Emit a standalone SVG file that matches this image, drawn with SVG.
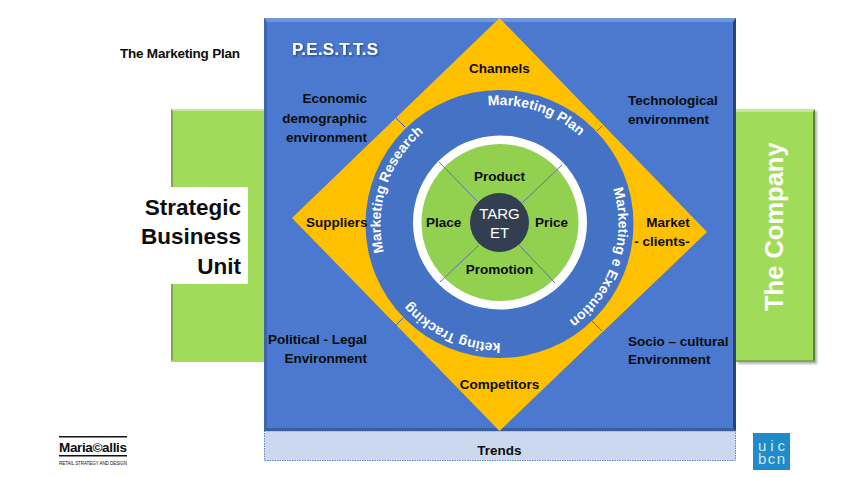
<svg xmlns="http://www.w3.org/2000/svg" width="848" height="477" viewBox="0 0 848 477">
<style>
text{font-family:"Liberation Sans",Arial,sans-serif;font-weight:700;fill:#0d0d0d;font-size:13.5px}
.e{text-anchor:end}.m{text-anchor:middle}
.w{fill:#fff}
.arc{fill:#fff;font-size:14px}
.spoke{stroke:#5b74b5;stroke-width:1;fill:none}
.tick{stroke:#3f63a8;stroke-width:1;fill:none}
</style>
<defs>
<filter id="ts" x="-20%" y="-40%" width="140%" height="180%"><feDropShadow dx="1" dy="1" stdDeviation="0.8" flood-color="#1d2f55" flood-opacity="0.8"/></filter>
<filter id="bs" x="-5%" y="-5%" width="110%" height="110%"><feDropShadow dx="2" dy="2" stdDeviation="1.2" flood-color="#000" flood-opacity="0.3"/></filter>
<path id="ring" d="M499.5 343A119 119 0 0 1 499.5 105A119 119 0 0 1 499.5 343A119 119 0 0 1 499.5 105"/>
</defs>
<g id="strategic-unit">
<rect x="171" y="109" width="93" height="253" fill="#a0dc5a"/>
<polygon points="171,109 264,109 264,111 173,111 173,362 171,362" fill="#c3e897"/>
<polygon points="171,109 173,111 173,187 171,187" fill="#7fa94c"/>
<polygon points="171,284 173,284 173,360 171,362" fill="#7fa94c"/>
<rect x="171" y="187" width="77" height="97" fill="#fff"/>
<text class="e" x="241" y="215" style="font-size:22.5px">Strategic</text>
<text class="e" x="241" y="244" style="font-size:22.5px">Business</text>
<text class="e" x="241" y="274" style="font-size:22.5px">Unit</text>
</g>
<g id="company">
<rect x="736" y="109" width="79" height="253" fill="#a0dc5a" filter="url(#bs)"/>
<polygon points="736,109 815,109 813,112 736,112" fill="#c3e897"/>
<polygon points="815,109 815,362 813,360 813,112" fill="#5e8135"/>
<polygon points="736,360 813,360 815,362 736,362" fill="#7fa94c"/>
<text class="w" transform="translate(783 311) rotate(-90)" style="font-size:25.5px">The Company</text>
</g>
<g id="trends">
<rect x="264.500" y="431" width="471" height="29.500" fill="#ccd8ef" stroke="#5b86cf" stroke-width="1" stroke-dasharray="1.500 1"/>
<text class="m" x="499.500" y="455">Trends</text>
</g>
<g id="pestts">
<rect x="264" y="18" width="472" height="413" fill="#4a79cf"/>
<polygon points="264,18 736,18 733,22 267,22" fill="#6f95da"/>
<polygon points="264,18 267,22 267,428 264,431" fill="#3d65ad"/>
<polygon points="736,18 736,431 733,428 733,22" fill="#2a4470"/>
<polygon points="264,431 736,431 733,428 267,428" fill="#3a5e9f"/>
<text class="w" x="292" y="55" filter="url(#ts)" style="font-size:17px" textLength="86">P.E.S.T.T.S</text>
</g>
<g id="diamond"><polygon points="499.500,18 707,232 499.500,431 292,218" fill="#ffc000"/></g>
<g id="ring-circle"><circle cx="499.500" cy="224" r="134" fill="#4472c4"/></g>
<g id="white-ring"><circle cx="500" cy="222.500" r="87" fill="#fff"/></g>
<g id="mix-circle"><circle cx="500" cy="222.500" r="78.500" fill="#92d050"/></g>
<g id="connectors">
<path class="spoke" d="M439 162L477 201M562 165L522 203M440 282L479 245M555 283L519 245"/>
<path class="tick" d="M396 118L405 127M602 126L597 131M396 325L403 318M592 321L602 331"/>
</g>
<g id="target">
<circle cx="499.500" cy="222.500" r="29.500" fill="#333f50"/>
<text class="m w" x="499.500" y="219" style="font-weight:400;font-size:15px">TARG</text>
<text class="m w" x="499.500" y="238" style="font-weight:400;font-size:15px">ET</text>
</g>
<g id="labels-mix">
<text class="m" x="499.500" y="181">Product</text>
<text x="426" y="227">Place</text>
<text x="535" y="227">Price</text>
<text class="m" x="499.500" y="274">Promotion</text>
</g>
<g id="labels-diamond">
<text class="m" x="499.500" y="73">Channels</text>
<text x="306" y="227">Suppliers</text>
<text class="m" x="668" y="227">Market</text>
<text class="m" x="662" y="246">- clients-</text>
<text class="m" x="499.500" y="389">Competitors</text>
</g>
<g id="labels-environment">
<text class="e" x="367" y="103">Economic</text>
<text class="e" x="367" y="123">demographic</text>
<text class="e" x="367" y="142">environment</text>
<text x="628" y="105">Technological</text>
<text x="628" y="124">environment</text>
<text class="e" x="367" y="344">Political - Legal</text>
<text class="e" x="367" y="363">Environment</text>
<text x="628" y="346">Socio – cultural</text>
<text x="628" y="364">Environment</text>
</g>
<g id="ring-labels">
<text class="arc m"><textPath href="#ring" startOffset="225">Marketing Research</textPath></text>
<text class="arc m"><textPath href="#ring" startOffset="412">Marketing Plan</textPath></text>
<text class="arc m"><textPath href="#ring" startOffset="599">Marketing e Execution</textPath></text>
<text class="arc m"><textPath href="#ring" startOffset="38">Marketing Tracking</textPath></text>
</g>
<text x="120" y="58" textLength="120">The Marketing Plan</text>
<g id="logo-maria">
<rect x="59" y="436" width="68" height="1.500" fill="#111"/>
<rect x="59" y="455" width="68" height="1.500" fill="#111"/>
<text x="59" y="452" style="font-size:13.5px" textLength="68">Maria©allis</text>
<text x="59" y="465" style="font-size:4.500px;font-weight:400" textLength="68">RETAIL STRATEGY AND DESIGN</text>
</g>
<g id="logo-uic">
<rect x="753" y="433" width="37" height="37" fill="#1f8bc9"/>
<text class="m" x="771.500" y="451" style="fill:#cfe6f4;font-weight:400;font-size:15px" textLength="27">uic</text>
<text class="m" x="771.500" y="464" style="fill:#cfe6f4;font-weight:400;font-size:15px" textLength="27">bcn</text>
</g>
</svg>
